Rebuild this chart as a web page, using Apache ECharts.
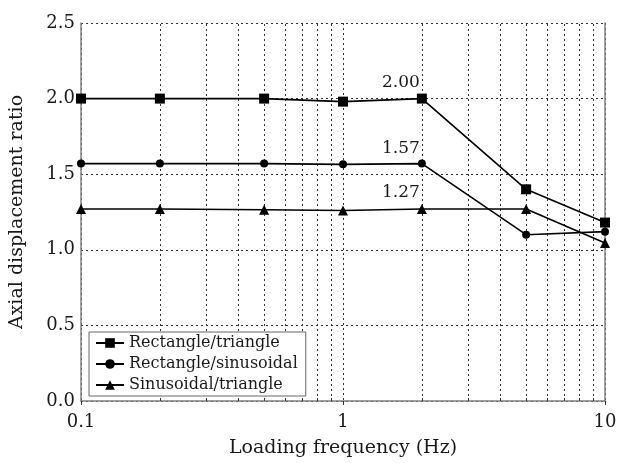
<!DOCTYPE html>
<html><head><meta charset="utf-8">
<script src="https://cdn.jsdelivr.net/npm/echarts@6/dist/echarts.min.js"></script>
<style>html,body{margin:0;padding:0;background:#fff}#c{width:620px;height:463px}</style>
</head><body><div id="c"></div>
<script>
const frequencies = [0.1, 0.2, 0.5, 1, 2, 5, 10];
const rectTri = [2.00, 2.00, 2.00, 1.98, 2.00, 1.40, 1.18];
const rectSin = [1.57, 1.57, 1.57, 1.565, 1.57, 1.10, 1.12];
const sinTri  = [1.27, 1.27, 1.265, 1.26, 1.27, 1.27, 1.045];
const seriesNames = ['Rectangle/triangle', 'Rectangle/sinusoidal', 'Sinusoidal/triangle'];
const annotations = ['2.00', '1.57', '1.27'];
const annotateAt = 2;
const majorTicks = [0.1, 1, 10];
const minorTicks = [0.2,0.3,0.4,0.5,0.6,0.7,0.8,0.9,2,3,4,5,6,7,8,9];
const yTicks = [0, 0.5, 1.0, 1.5, 2.0, 2.5];

const FONT = 'DejaVu Serif';
const gridColor = '#333';
const axisColor = '#808080';
const textColor = '#1a1a1a';

function build(vals, idx) {
  return frequencies.map((f, i) => {
    const item = { value: [f, vals[i]] };
    if (f === annotateAt) {
      item.label = { show: true, formatter: annotations[idx], position: 'top',
        offset: [-21, 2], fontFamily: FONT, fontSize: 17, color: textColor };
    }
    return item;
  });
}
const symbols = ['rect', 'circle', 'triangle'];
const sizes = [10, 8, 10];
const datas = [rectTri, rectSin, sinTri];

const series = datas.map((d, i) => ({
  name: seriesNames[i], type: 'line', data: build(d, i),
  symbol: symbols[i], symbolSize: sizes[i], showSymbol: true,
  lineStyle: { color: '#000', width: 1.6 },
  itemStyle: { color: '#000' },
  z: 5
}));
series[0].markLine = {
  silent: true, symbol: 'none', label: { show: false },
  lineStyle: { color: gridColor, type: [2, 3], width: 1 },
  data: minorTicks.map(v => ({ xAxis: v })), z: 1
};

const chart = echarts.init(document.getElementById('c'));
chart.setOption({
  animation: false,
  backgroundColor: '#fff',
  grid: { left: 80, right: 15, top: 23, bottom: 61 },
  legend: {
    left: 89, top: 332, orient: 'vertical',
    padding: [3, 8, 3, 6], itemGap: 5,
    itemWidth: 28, itemHeight: 12,
    borderColor: '#666', borderWidth: 1, backgroundColor: '#fff',
    textStyle: { fontFamily: FONT, fontSize: 16, color: textColor },
    data: seriesNames
  },
  xAxis: [{
    type: 'log', logBase: 10, min: 0.1, max: 10,
    name: 'Loading frequency (Hz)', nameLocation: 'middle', nameGap: 38,
    nameTextStyle: { fontFamily: FONT, fontSize: 19, color: textColor },
    axisLine: { show: true, lineStyle: { color: axisColor, width: 1.5 } },
    axisTick: { show: true, inside: false, length: 4, lineStyle: { color: '#333' } },
    axisLabel: { fontFamily: FONT, fontSize: 18, color: textColor, margin: 12,
      formatter: v => String(v) },
    splitLine: { show: true, lineStyle: { color: gridColor, type: [2, 3], width: 1 } },
    minorTick: { show: false }, minorSplitLine: { show: false }
  }, {
    type: 'log', logBase: 10, min: 0.1, max: 10, position: 'bottom',
    axisLine: { show: false },
    axisTick: { show: true, inside: true, length: 3, customValues: minorTicks,
      lineStyle: { color: '#333' } },
    axisLabel: { show: false },
    splitLine: { show: false }
  }],
  yAxis: [{
    type: 'value', min: 0, max: 2.5, interval: 0.5,
    name: 'Axial displacement ratio', nameLocation: 'middle', nameGap: 54,
    nameTextStyle: { fontFamily: FONT, fontSize: 19, color: textColor },
    axisLine: { show: true, lineStyle: { color: axisColor, width: 1.5 } },
    axisTick: { show: false },
    axisLabel: { fontFamily: FONT, fontSize: 18, color: textColor, margin: 6,
      formatter: v => v.toFixed(1) },
    splitLine: { show: true, lineStyle: { color: gridColor, type: [2, 3], width: 1 } }
  }, {
    type: 'value', min: 0, max: 2.5, interval: 0.5, position: 'right',
    axisLine: { show: true, lineStyle: { color: axisColor, width: 1.5 } },
    axisTick: { show: false }, axisLabel: { show: false }, splitLine: { show: false }
  }],
  series: series
});
</script></body></html>
